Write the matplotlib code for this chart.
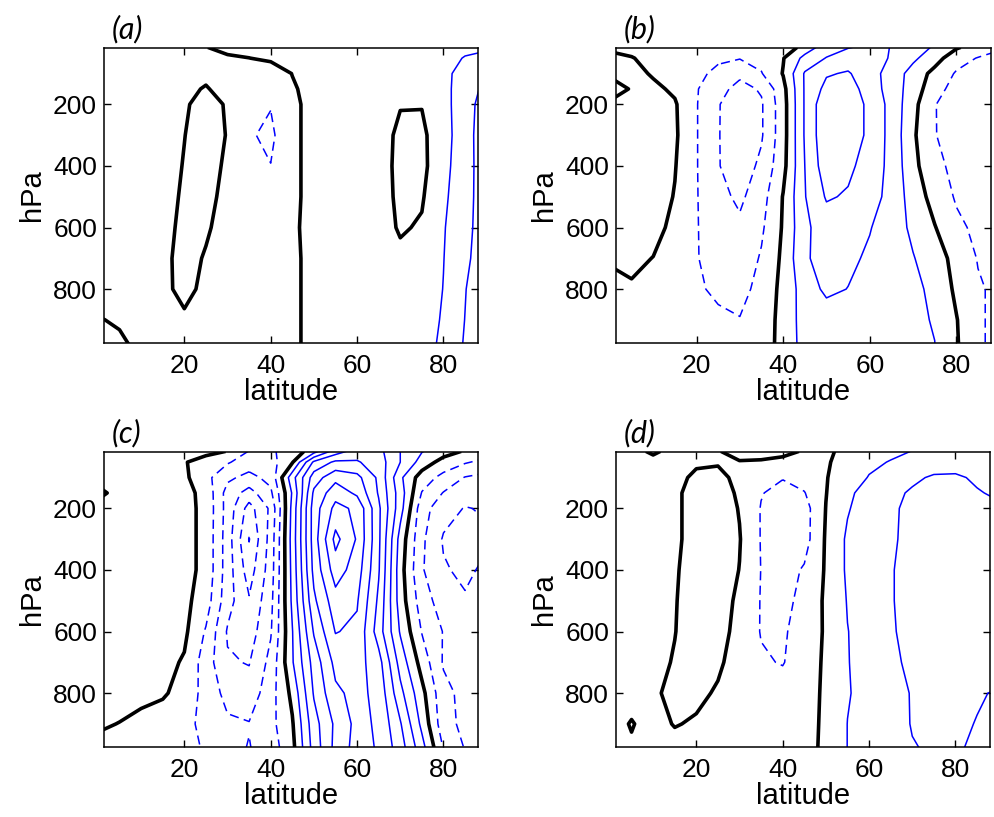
import numpy as np
import matplotlib
matplotlib.use("Agg")
import matplotlib.pyplot as plt

# grid the values were read on
lat = [0, 5, 10, 15, 20, 25, 30, 35, 40, 45, 50, 55, 60, 65, 70, 75, 80, 85, 90]
pres = [15, 50, 100, 150, 200, 300, 400, 500, 600, 700, 800, 900, 980]

# panel (a), one row per pressure level
field_a = [
    [-0.3, -0.3, -0.3, -0.3, -0.2, -0.02, 0.2, 0.3, 0.3, 0.3, 0.35, 0.4, 0.4, 0.4, 0.45, 0.5, 0.5, 0.8, 0.9],
    [-0.3, -0.3, -0.3, -0.3, -0.3, -0.3, -0.1, -0.01, 0.15, 0.3, 0.35, 0.4, 0.4, 0.4, 0.45, 0.5, 0.7, 1.05, 1.2],
    [-0.4, -0.4, -0.4, -0.4, -0.4, -0.3, -0.5, -0.5, -0.5, 0.02, 0.3, 0.4, 0.4, 0.4, 0.4, 0.5, 0.8, 1.3, 1.8],
    [-0.4, -0.4, -0.4, -0.4, -0.3, 0.1, -0.5, -0.6, -0.7, -0.1, 0.3, 0.4, 0.4, 0.4, 0.3, 0.4, 0.8, 1.35, 2.35],
    [-0.4, -0.4, -0.4, -0.4, -0.1, 0.3, -0.08, -0.7, -0.95, -0.2, 0.3, 0.4, 0.4, 0.4, 0.05, 0.05, 0.8, 1.35, 2.76],
    [-0.4, -0.4, -0.4, -0.4, -0.02, 0.45, -0.05, -0.9, -1.2, -0.2, 0.3, 0.4, 0.4, 0.4, -0.2, -0.25, 0.8, 1.3, 3.05],
    [-0.4, -0.4, -0.4, -0.4, 0.05, 0.4, -0.17, -0.8, -0.98, -0.2, 0.3, 0.4, 0.4, 0.4, -0.25, -0.3, 0.85, 1.3, 3.0],
    [-0.4, -0.4, -0.4, -0.4, 0.15, 0.3, -0.3, -0.6, -0.7, -0.2, 0.3, 0.4, 0.4, 0.4, -0.2, -0.1, 0.9, 1.35, 2.98],
    [-0.4, -0.4, -0.4, -0.4, 0.3, 0.15, -0.47, -0.5, -0.5, -0.15, 0.3, 0.4, 0.4, 0.4, -0.1, 0.1, 0.95, 1.5, 2.9],
    [-0.4, -0.4, -0.4, -0.3, 0.4, -0.1, -0.5, -0.5, -0.5, -0.2, 0.3, 0.4, 0.4, 0.4, 0.2, 0.4, 0.98, 1.7, 2.85],
    [-0.4, -0.3, -0.3, -0.3, 0.35, -0.3, -0.5, -0.5, -0.5, -0.2, 0.3, 0.4, 0.4, 0.4, 0.4, 0.5, 1.02, 1.95, 2.9],
    [0.05, -0.1, -0.3, -0.3, -0.2, -0.4, -0.5, -0.5, -0.5, -0.2, 0.3, 0.4, 0.4, 0.4, 0.45, 0.55, 1.1, 2.02, 2.9],
    [0.3, 0.15, -0.2, -0.3, -0.4, -0.4, -0.5, -0.5, -0.5, -0.2, 0.3, 0.4, 0.4, 0.4, 0.5, 0.6, 1.2, 2.1, 3.0],
]

# panel (b)
field_b = [
    [-0.2, -0.3, -0.4, -0.4, -0.4, -0.5, -0.6, -0.5, -0.8, 0.45, 1.5, 1.95, 2.2, 1.98, 1.4, 0.9, 0.1, -0.4, -0.8],
    [0.3, 0.05, -0.3, -0.4, -0.5, -0.8, -0.95, -0.7, -0.05, 1.3, 2.05, 2.5, 2.5, 1.9, 1.2, 0.4, -0.6, -1.05, -1.5],
    [0.1, 0.3, -0.1, -0.3, -0.7, -1.3, -1.8, -1.05, 0.05, 2.1, 2.9, 3.1, 2.4, 1.6, 0.6, -0.3, -1.1, -1.5, -1.8],
    [-0.3, 0.05, 0.2, -0.16, -0.93, -1.7, -2.3, -1.9, -0.3, 2.1, 3.3, 3.5, 2.5, 1.6, 0.5, -0.6, -1.4, -1.8, -1.95],
    [0.1, 0.3, 0.4, 0.1, -0.95, -1.95, -2.5, -2.1, -0.4, 2.1, 3.8, 3.8, 2.7, 1.7, 0.3, -0.95, -1.6, -1.8, -1.9],
    [0.4, 0.5, 0.5, 0.15, -0.95, -1.95, -2.6, -2.1, -0.4, 2.1, 3.8, 3.8, 2.7, 1.7, 0.15, -0.95, -1.5, -1.7, -1.8],
    [0.4, 0.5, 0.5, 0.05, -0.95, -1.95, -2.5, -1.8, -0.3, 2.0, 3.6, 3.2, 2.6, 1.7, 0.3, -0.8, -1.2, -1.5, -1.6],
    [0.4, 0.5, 0.45, -0.05, -0.95, -1.7, -2.2, -1.4, 0.05, 1.95, 3.1, 2.9, 2.5, 1.6, 0.6, -0.4, -1.1, -1.4, -1.5],
    [0.3, 0.4, 0.3, -0.24, -0.95, -1.5, -1.8, -1.15, 0.1, 1.8, 2.5, 2.3, 2.05, 1.5, 0.8, 0.05, -0.8, -1.2, -1.4],
    [0.1, 0.2, -0.02, -0.5, -0.95, -1.4, -1.6, -0.9, 0.2, 1.9, 2.3, 2.2, 1.85, 1.45, 1.05, 0.5, -0.35, -1.05, -1.3],
    [-0.3, -0.1, -0.4, -0.6, -0.85, -1.2, -1.4, -0.6, 0.25, 1.5, 2.2, 1.98, 1.7, 1.35, 1.2, 0.8, -0.2, -0.9, -1.2],
    [-0.5, -0.5, -0.6, -0.7, -0.6, -0.8, -0.95, -0.5, 0.3, 1.45, 1.5, 1.5, 1.4, 1.3, 1.15, 0.95, 0.05, -0.9, -1.2],
    [-0.5, -0.6, -0.6, -0.7, -0.5, -0.6, -0.7, -0.45, 0.3, 1.4, 1.4, 1.4, 1.35, 1.25, 1.15, 1.01, 0.1, -0.9, -1.2],
]

# panel (c)
field_c = [
    [0.4, 0.4, 0.4, 0.4, 0.3, 0.2, -0.02, -1.05, -1.1, -0.7, 0.6, 2.5, 3.5, 3.3, 2.0, 1.05, 0.45, -0.1, -0.5],
    [0.4, 0.4, 0.4, 0.3, 0.05, -0.3, -0.9, -1.5, -1.4, -0.1, 3.2, 4.2, 4.1, 3.5, 2.0, 0.6, -0.4, -0.9, -1.3],
    [0.4, 0.4, 0.4, 0.3, 0.2, -0.7, -1.8, -2.3, -1.7, 1.6, 4.5, 5.7, 5.3, 3.8, 1.2, -0.5, -1.3, -2.05, -2.3],
    [-0.3, 0.4, 0.4, 0.4, 0.3, -0.3, -2.4, -3.4, -2.2, 1.1, 5.2, 6.6, 5.8, 3.9, 1.5, -1.05, -2.05, -2.6, -2.9],
    [0.4, 0.4, 0.4, 0.4, 0.3, -0.25, -2.4, -4.4, -2.8, 1.3, 5.5, 7.3, 6.8, 4.2, 1.4, -1.6, -2.6, -3.05, -2.9],
    [0.4, 0.4, 0.4, 0.4, 0.3, -0.25, -2.5, -5.05, -2.6, 1.4, 5.5, 8.3, 6.9, 4.2, 0.6, -1.8, -3.1, -3.5, -3.15],
    [0.4, 0.4, 0.4, 0.4, 0.3, -0.25, -2.5, -4.5, -2.5, 1.3, 5.3, 7.5, 6.5, 4.1, 0.4, -1.9, -2.9, -3.2, -2.8],
    [0.4, 0.4, 0.4, 0.35, 0.25, -0.5, -2.6, -3.9, -2.3, 1.2, 4.8, 6.6, 6.1, 3.8, 0.5, -1.5, -2.5, -2.9, -2.95],
    [0.4, 0.4, 0.4, 0.35, 0.2, -1.1, -3.1, -3.5, -2.1, 0.95, 4.1, 6.05, 5.8, 3.5, 0.9, -1.05, -2.05, -2.6, -2.8],
    [0.4, 0.4, 0.4, 0.3, -0.1, -1.5, -2.9, -3.05, -1.7, 0.9, 3.4, 5.3, 5.4, 4.4, 1.6, -0.4, -2.1, -2.6, -2.7],
    [0.3, 0.3, 0.3, 0.1, -0.3, -1.4, -2.3, -2.6, -1.4, 0.25, 3.1, 4.8, 5.3, 4.7, 2.3, 0.3, -1.7, -2.3, -2.6],
    [0.1, -0.02, -0.3, -0.4, -0.6, -1.4, -1.85, -1.95, -1.3, -0.1, 2.6, 4.2, 5.3, 4.85, 3.1, 0.75, -1.6, -2.27, -2.5],
    [-0.2, -0.3, -0.4, -0.5, -0.85, -1.05, -1.7, -2.05, -1.5, -0.3, 2.4, 4.3, 5.4, 4.9, 3.5, 1.4, -1.05, -2.05, -2.4],
]

# panel (d)
field_d = [
    [-0.2, -0.3, 0.15, -0.3, -0.3, -0.05, 0.3, 0.35, 0.3, -0.1, -0.2, 0.3, 0.6, 0.8, 1.02, 1.3, 1.5, 1.65, 1.75],
    [-0.3, -0.3, -0.3, -0.3, -0.15, -0.1, -0.05, -0.1, -0.3, -0.5, -0.1, 0.35, 0.8, 1.05, 1.3, 1.6, 1.7, 1.75, 1.8],
    [-0.3, -0.3, -0.3, -0.3, 0.2, 0.3, -0.3, -0.7, -0.95, -0.6, -0.05, 0.5, 1.05, 1.5, 1.85, 2.1, 2.1, 1.9, 1.85],
    [-0.3, -0.3, -0.3, -0.2, 0.4, 0.45, -0.15, -0.95, -1.3, -1.05, -0.03, 0.8, 1.4, 1.8, 2.1, 2.3, 2.3, 2.05, 1.9],
    [-0.3, -0.3, -0.3, -0.2, 0.4, 0.5, -0.05, -1.05, -1.5, -1.4, 0.02, 0.92, 1.5, 1.9, 2.15, 2.35, 2.4, 2.25, 2.1],
    [-0.3, -0.3, -0.3, -0.2, 0.4, 0.5, 0.05, -1.05, -1.5, -1.4, 0.1, 1.15, 1.5, 1.9, 2.2, 2.4, 2.45, 2.4, 2.3],
    [-0.3, -0.3, -0.3, -0.1, 0.4, 0.5, -0.02, -1.02, -1.4, -0.9, 0.1, 1.15, 1.5, 1.95, 2.25, 2.45, 2.5, 2.45, 2.4],
    [-0.3, -0.3, -0.3, -0.05, 0.4, 0.45, -0.2, -1.05, -1.3, -0.7, 0.15, 1.05, 1.4, 1.95, 2.25, 2.45, 2.5, 2.45, 2.4],
    [-0.3, -0.3, -0.3, -0.02, 0.35, 0.35, -0.3, -1.05, -1.15, -0.5, 0.1, 0.98, 1.35, 1.93, 2.2, 2.4, 2.45, 2.4, 2.3],
    [-0.3, -0.3, -0.2, 0.05, 0.35, 0.15, -0.4, -0.9, -1.05, -0.5, 0.15, 0.97, 1.3, 1.9, 2.1, 2.35, 2.45, 2.35, 2.3],
    [-0.3, -0.3, -0.15, 0.25, 0.2, -0.1, -0.5, -0.6, -0.6, -0.5, 0.2, 0.95, 1.25, 1.7, 2.05, 2.2, 2.2, 2.05, 1.95],
    [-0.3, 0.05, -0.3, 0.05, -0.1, -0.4, -0.5, -0.55, -0.55, -0.5, 0.25, 1.01, 1.2, 1.6, 2.05, 2.15, 2.1, 1.98, 1.85],
    [-0.2, -0.1, -0.3, -0.3, -0.4, -0.5, -0.5, -0.5, -0.5, -0.5, 0.3, 1.01, 1.2, 1.55, 1.95, 2.1, 2.1, 1.85, 1.75],
]

panel_labels = ["(a)", "(b)", "(c)", "(d)"]
neg_levels = [-6, -5, -4, -3, -2, -1]
pos_levels = [1, 2, 3, 4, 5, 6, 7, 8, 9]
xticks = [20, 40, 60, 80]
yticks = [200, 400, 600, 800]

plt.rcParams['font.family'] = 'Liberation Sans'
plt.rcParams['lines.dashed_pattern'] = [6, 3.5]

W, H = 995, 817
fig = plt.figure(figsize=(W / 100, H / 100), dpi=100)

# axes boxes in pixels: left, top, right, bottom
boxes = [(104, 48, 478, 343), (616, 48, 991, 343),
         (104, 452, 478, 747), (616, 452, 990, 747)]

for label, field, box in zip(panel_labels, [field_a, field_b, field_c, field_d], boxes):
    l, t, r, b = box
    ax = fig.add_axes([l / W, 1 - b / H, (r - l) / W, (b - t) / H])
    z = np.array(field)
    ax.contour(lat, pres, z, levels=neg_levels, colors='b', linewidths=1.1, linestyles='dashed')
    ax.contour(lat, pres, z, levels=pos_levels, colors='b', linewidths=1.1, linestyles='solid')
    ax.contour(lat, pres, z, levels=[0], colors='k', linewidths=2.6)
    ax.set_xlim(1.4, 88)
    ax.set_ylim(975, 17)
    ax.set_xticks(xticks)
    ax.set_yticks(yticks)
    ax.tick_params(direction='in', length=5, width=1, top=True, right=True, labelsize=19)
    ax.tick_params(axis='x', pad=8)
    ax.tick_params(axis='y', pad=5)
    for s in ax.spines.values():
        s.set_linewidth(1.1)
    ax.set_xlabel('latitude', fontsize=21, labelpad=0)
    ax.set_ylabel('hPa', fontsize=21, labelpad=5)
    ax.text(0.02, 1.015, label, transform=ax.transAxes, fontsize=22,
            family='Lato', style='italic', ha='left', va='bottom')

fig.savefig('out.png', dpi=100)
